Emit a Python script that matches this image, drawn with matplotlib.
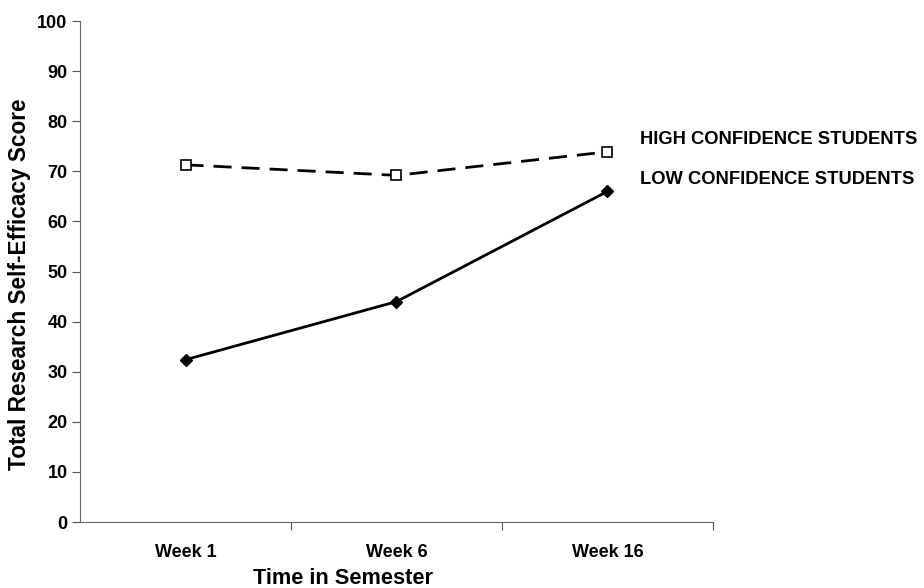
"""
Research self-efficacy over the semester, high vs low confidence students.
"""
import matplotlib
matplotlib.use('Agg')
import matplotlib.pyplot as plt
import matplotlib.transforms as mtransforms

# Data
weeks = ['Week 1', 'Week 6', 'Week 16']
high_conf = [71.3, 69.2, 73.9]
low_conf = [32.4, 44.0, 66.0]
series_labels = ['HIGH CONFIDENCE STUDENTS', 'LOW CONFIDENCE STUDENTS']
label_y = [76.3, 68.3]

plt.rcParams['font.family'] = ['Liberation Sans', 'DejaVu Sans']
plt.rcParams['font.weight'] = 'bold'

fig = plt.figure(figsize=(9.24, 5.88), dpi=100)
ax = fig.add_axes([0.0866, 0.1122, 0.685, 0.852])

x = range(len(weeks))
ax.plot(x, high_conf, color='black', linestyle=(0, (6.5, 3.6)), linewidth=2,
        marker='s', markersize=6.5, markerfacecolor='white',
        markeredgecolor='black', markeredgewidth=1.2)
ax.plot(x, low_conf, color='black', linestyle='-', linewidth=2,
        marker='D', markersize=6, markerfacecolor='black',
        markeredgecolor='black')

ax.set_xlim(-0.5, len(weeks) - 0.5)
ax.set_ylim(0, 100)
ax.set_yticks(range(0, 101, 10))
ax.set_xticks(list(x))
ax.set_xticklabels(weeks, fontsize=13, fontweight='bold')
ax.tick_params(axis='x', length=0, pad=16)
ax.set_xticks([0.5, 1.5, 2.5], minor=True)
ax.tick_params(axis='x', which='minor', length=6, color='#555555', width=0.8)
ax.tick_params(axis='y', length=6, color='#555555', width=0.8, labelsize=13,
               pad=3)
for lab in ax.get_yticklabels():
    lab.set_fontweight('bold')

for side in ['top', 'right']:
    ax.spines[side].set_visible(False)
for side in ['left', 'bottom']:
    ax.spines[side].set_color('#666666')
    ax.spines[side].set_linewidth(0.8)

ax.set_ylabel('Total Research Self-Efficacy Score', fontsize=16.3,
              fontweight='bold')
ax.set_xlabel('Time in Semester', fontsize=15.7, fontweight='bold')
ax.yaxis.set_label_coords(-0.096, 0.475)
ax.xaxis.set_label_coords(0.415, -0.112)
ax.yaxis.label.set_va('center')
ax.xaxis.label.set_va('center')

# Series labels at the right
trans = mtransforms.blended_transform_factory(ax.transAxes, ax.transData)
for name, yv in zip(series_labels, label_y):
    ax.text(0.885, yv, name, transform=trans, fontsize=13.2,
            fontweight='bold', va='center', ha='left', clip_on=False)

fig.savefig('out.png', dpi=100)
